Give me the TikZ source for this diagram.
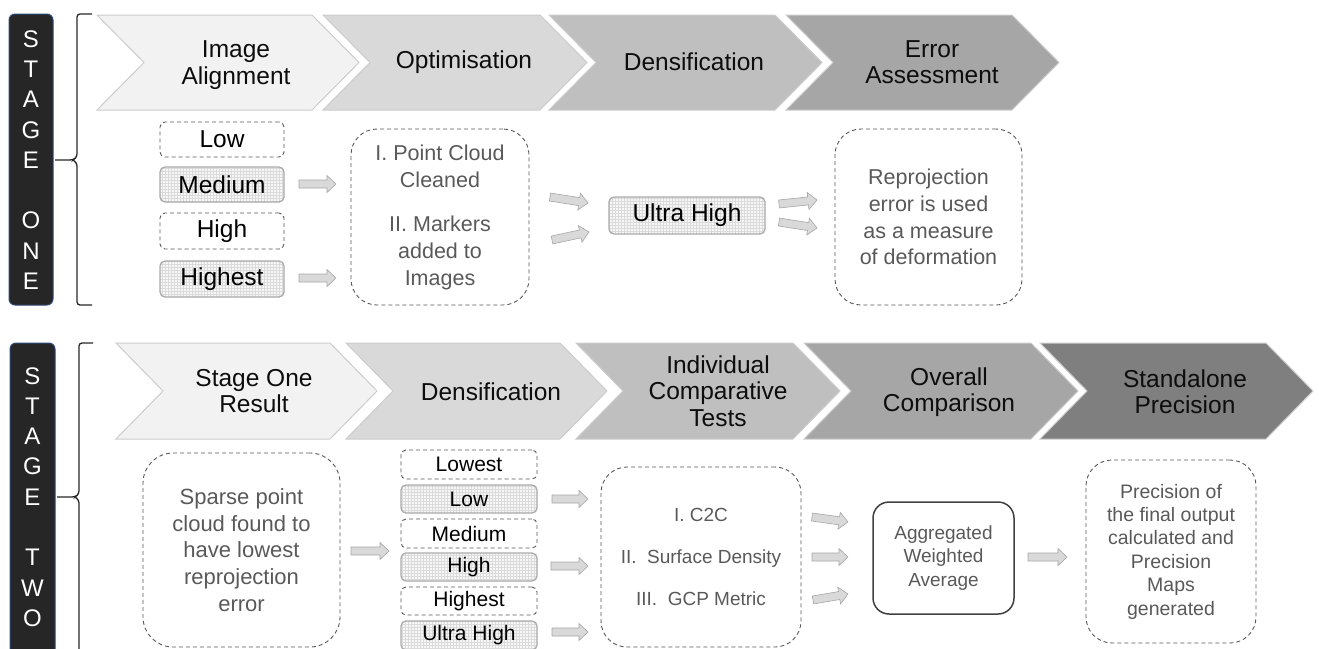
\documentclass[tikz,border=0pt]{standalone}
\usepackage{fontspec}
\setmainfont{Liberation Sans}
\usetikzlibrary{calc,patterns}
\definecolor{cA}{HTML}{F2F2F2}
\definecolor{cB}{HTML}{D9D9D9}
\definecolor{cC}{HTML}{BFBFBF}
\definecolor{cD}{HTML}{A6A6A6}
\definecolor{cE}{HTML}{7F7F7F}
\definecolor{barfill}{HTML}{262626}
\definecolor{barline}{HTML}{2F4A7A}
\definecolor{boxtext}{HTML}{595959}
\newcommand\chevron[6]{% L, R, top, bot, mid, fill
  \draw[chev,fill=#6] (#1,#3) -- (#2,#3) -- ({#2+47},#5) -- (#2,#4) -- (#1,#4) -- ({#1+47},#5) -- cycle;}
\newcommand\barrow[3]{% name, start, end
  \coordinate (#1s) at (#2);
  \coordinate (#1e) at (#3);
  \coordinate (#1h) at ($(#1e)!9pt!(#1s)$);
  \draw[barr] ($(#1s)!4pt!90:(#1e)$) -- ($(#1h)!4pt!90:(#1e)$) -- ($(#1h)!8.5pt!90:(#1e)$) -- (#1e)
     -- ($(#1h)!8.5pt!-90:(#1e)$) -- ($(#1h)!4pt!-90:(#1e)$) -- ($(#1s)!4pt!-90:(#1e)$) -- cycle;}
\begin{document}
\begin{tikzpicture}[x=1pt,y=-1pt,
  chev/.style={draw=black!20,line width=1pt,line join=miter},
  ctext/.style={font=\fontsize{24.5}{26.5}\selectfont,text=black!95,align=center},
  stagebar/.style={fill=barfill,draw=barline,line width=1pt,rounded corners=6pt},
  stagetext/.style={font=\fontsize{24}{30.3}\selectfont,text=white,align=center},
  brace/.style={draw=black!85,line width=1.3pt,rounded corners=3pt},
  dbox/.style={draw=black!65,dash pattern=on 4pt off 3pt,line width=0.9pt,rounded corners=5pt,inner sep=0pt,text=black,align=center},
  hbox/.style={draw=black!33,line width=1.3pt,rounded corners=5pt,inner sep=0pt,preaction={fill=black!3},pattern=grid,pattern color=black!14,text=black,align=center},
  bigbox/.style={draw=black!65,dash pattern=on 4pt off 3pt,line width=0.9pt,rounded corners=26pt,inner sep=0pt,text=boxtext,align=center},
  solidbox/.style={draw=black!75,line width=1.5pt,rounded corners=16pt,inner sep=0pt,text=boxtext,align=center},
  barr/.style={fill=cB,draw=black!35,line width=0.6pt,line join=miter},
  big/.style={font=\fontsize{24.5}{26}\selectfont},
  mid/.style={font=\fontsize{21}{26}\selectfont}]
\useasboundingbox (0,0) rectangle (1319,648);
\clip (0,0) rectangle (1319,648);

% ===== STAGE ONE =====
\draw[stagebar] (9,14) rectangle (53,305);
\node[stagetext] (s1lab) at (31,160) {S\\T\\A\\G\\E\\[30.3pt]O\\N\\E};
\draw[brace] (92,14) -- (77,14) -- (77,157) -- (73,160) -- (55,160);
\draw[brace] (73,160) -- (77,163) -- (77,305) -- (92,305);

\chevron{97}{312}{15}{110}{62.5}{cA}
\chevron{323}{540}{15}{110}{62.5}{cB}
\chevron{549}{775}{15}{110}{62.5}{cC}
\chevron{786}{1012}{15}{110}{62.5}{cD}
\node[ctext] (c11) at (236,65) {Image\\Alignment};
\node[ctext] (c12) at (464,62) {Optimisation};
\node[ctext] (c13) at (694,62) {Densification};
\node[ctext] (c14) at (932,62) {Error\\Assessment};

\node[dbox,big,minimum width=124,minimum height=35] (low1) at (222,139.5) {Low};
\node[hbox,big,minimum width=124,minimum height=35] (med1) at (222,184.5) {Medium};
\node[dbox,big,minimum width=124,minimum height=36] (high1) at (222,231) {High};
\node[hbox,big,minimum width=124,minimum height=36] (highest1) at (222,279) {Highest};

\node[bigbox,font=\fontsize{21.5}{27}\selectfont,minimum width=178,minimum height=176] (opt1) at (440,217)
  {I. Point Cloud\\Cleaned\\[17pt]II. Markers\\added to\\Images};
\node[hbox,big,minimum width=156,minimum height=37] (ultra1) at (687,215.5) {Ultra High};
\node[bigbox,font=\fontsize{21.5}{26.7}\selectfont,minimum width=187,minimum height=176] (err1) at (928.5,217)
  {Reprojection\\error is used\\as a measure\\of deformation};

\barrow{a1}{299,184}{336,184}
\barrow{a2}{299,278}{336,278}
\barrow{a3}{550,197}{588,203}
\barrow{a4}{552,240}{589,232}
\barrow{a5}{779,204}{817,200}
\barrow{a6}{779,222}{817,228}

% ===== STAGE TWO =====
\draw[stagebar] (10,343) rectangle (55,670);
\node[stagetext] (s2lab) at (32.5,497) {S\\T\\A\\G\\E\\[30.3pt]T\\W\\O};
\draw[brace] (93,343) -- (79,343) -- (79,494) -- (75,497) -- (57,497);
\draw[brace] (75,497) -- (79,500) -- (79,670);

\chevron{116}{330}{343}{439}{391}{cA}
\chevron{346}{560}{343}{439}{391}{cB}
\chevron{576}{793}{343}{439}{391}{cC}
\chevron{804}{1031}{343}{439}{391}{cD}
\chevron{1040}{1266}{343}{439}{391}{cE}
\node[ctext] (c21) at (254,391) {Stage One\\Result};
\node[ctext] (c22) at (491,392) {Densification};
\node[ctext] (c23) at (718,391) {Individual\\Comparative\\Tests};
\node[ctext] (c24) at (949,392) {Overall\\Comparison};
\node[ctext] (c25) at (1185,391.5) {Standalone\\Precision};

\node[bigbox,font=\fontsize{22}{26.75}\selectfont,rounded corners=30pt,minimum width=197,minimum height=194] (sparse) at (241.5,550)
  {Sparse point\\cloud found to\\have lowest\\reprojection\\error};

\node[dbox,mid,minimum width=136,minimum height=29] (d1) at (469,464.5) {Lowest};
\node[hbox,mid,minimum width=136,minimum height=28] (d2) at (469,499) {Low};
\node[dbox,mid,minimum width=136,minimum height=29] (d3) at (469,533.5) {Medium};
\node[hbox,mid,minimum width=136,minimum height=28] (d4) at (469,567) {High};
\node[dbox,mid,minimum width=136,minimum height=28] (d5) at (469,601) {Highest};
\node[hbox,mid,minimum width=136,minimum height=29] (d6) at (469,635.5) {Ultra High};

\node[bigbox,font=\fontsize{19}{42}\selectfont,minimum width=200,minimum height=180] (comp) at (701,557)
  {I. C2C\\II.\ \ Surface Density\\III.\ \ GCP Metric};
\node[solidbox,font=\fontsize{19}{23.5}\selectfont,minimum width=141,minimum height=112] (agg) at (943.5,558)
  {Aggregated\\Weighted\\Average};
\node[bigbox,font=\fontsize{19.5}{23.4}\selectfont,minimum width=170,minimum height=183] (prec) at (1171,551.5)
  {Precision of\\the final output\\calculated and\\Precision\\Maps\\generated};

\barrow{b1}{351,551}{389,551}
\barrow{b2}{552,499}{588,499}
\barrow{b3}{551,566}{588,566}
\barrow{b4}{552,632}{588,632}
\barrow{b5}{812,517}{848,522}
\barrow{b6}{812,557}{848,557}
\barrow{b7}{813,600}{848,594}
\barrow{b8}{1028,557}{1067,557}
\end{tikzpicture}
\end{document}
